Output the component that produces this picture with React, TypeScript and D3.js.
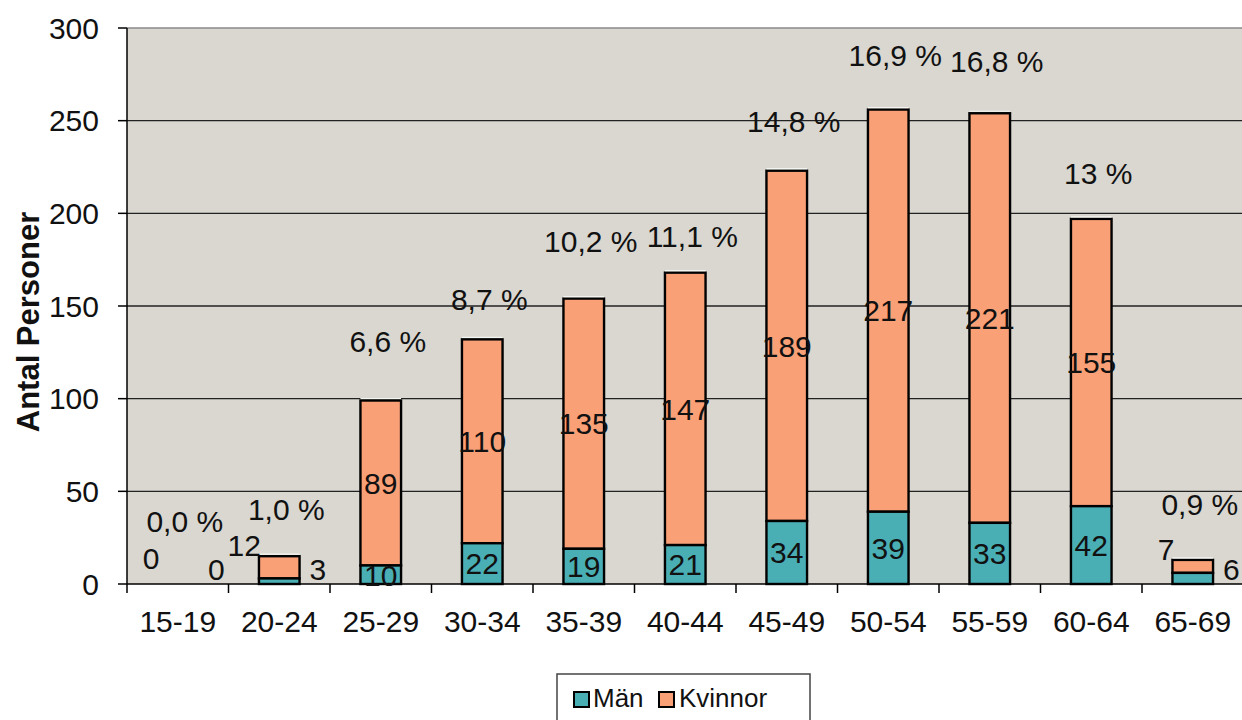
import React from 'react';
import * as d3 from 'd3';

// age groups and counts per sex
const ageGroups = ['15-19', '20-24', '25-29', '30-34', '35-39', '40-44', '45-49', '50-54', '55-59', '60-64', '65-69'];
const man = [0, 3, 10, 22, 19, 21, 34, 39, 33, 42, 6];
const kvinnor = [0, 12, 89, 110, 135, 147, 189, 217, 221, 155, 7];
// share of total, as shown above each bar, and the level (in persons) where each label sits
const shareLabels = ['0,0 %', '1,0 %', '6,6 %', '8,7 %', '10,2 %', '11,1 %', '14,8 %', '16,9 %', '16,8 %', '13 %', '0,9 %'];
const shareLevel = [28, 34.5, 125, 148, 179, 182, 244, 279.5, 276, 216, 37];
const yTicks = [0, 50, 100, 150, 200, 250, 300];

const W = 1242;
const H = 720;
const left = 127;
const right = 1243.5;
const top = 28;
const bottom = 584;

const TEAL = '#4aaeb5';
const ORANGE = '#f9a077';
const BG = '#d9d7d0';
const FONT = '"Liberation Sans", Arial, sans-serif';

const App = () => {
  const x = d3.scaleBand().domain(ageGroups).range([left, right]).padding(0);
  const y = d3.scaleLinear().domain([0, 300]).range([bottom, top]);
  const bw = x.bandwidth();
  const barW = bw * 0.4;

  const rows = ageGroups.map((g, i) => ({
    g,
    m: man[i],
    k: kvinnor[i],
    total: man[i] + kvinnor[i],
    x0: (x(g) as number) + (bw - barW) / 2,
    cx: (x(g) as number) + bw / 2,
  }));

  return (
    <svg width={W} height={H} style={{ position: 'absolute', left: 0, top: 0, background: '#fff' }}
      fontFamily={FONT}>
      <rect x={left} y={top} width={right - left} height={bottom - top} fill={BG} />
      <line x1={left} x2={right} y1={top} y2={top} stroke="#8a8a8a" strokeWidth={1.5} />

      {yTicks.filter(t => t > 0 && t < 300).map(t => (
        <line key={'g' + t} x1={left} x2={right} y1={y(t)} y2={y(t)} stroke="#222" strokeWidth={1.3} />
      ))}

      {rows.map(r => (
        <g key={r.g}>
          {r.total > 0 && (
            <>
              <rect x={r.x0} y={y(r.total)} width={barW} height={y(r.m) - y(r.total)}
                fill={ORANGE} stroke="#000" strokeWidth={2.4} />
              <rect x={r.x0} y={y(r.m)} width={barW} height={y(0) - y(r.m)}
                fill={TEAL} stroke="#000" strokeWidth={2.4} />
              <line x1={r.x0} x2={r.x0 + barW} y1={y(r.total) - 2} y2={y(r.total) - 2}
                stroke="#f4f4f0" strokeWidth={1.2} />
            </>
          )}
        </g>
      ))}

      {/* axes */}
      <line x1={left} x2={left} y1={top} y2={bottom} stroke="#000" strokeWidth={1.5} />
      <line x1={left} x2={right} y1={bottom} y2={bottom} stroke="#000" strokeWidth={1.5} />
      {yTicks.map(t => (
        <g key={'y' + t}>
          <line x1={left - 9} x2={left} y1={y(t)} y2={y(t)} stroke="#000" strokeWidth={1.5} />
          <text x={99} y={y(t)} dy="0.36em" textAnchor="end" fontSize={30} fill="#111">{t}</text>
        </g>
      ))}
      {ageGroups.map(g => (
        <g key={'x' + g}>
          <line x1={x(g) as number} x2={x(g) as number} y1={bottom} y2={bottom + 9} stroke="#000" strokeWidth={1.5} />
          <text x={(x(g) as number) + bw / 2} y={632} textAnchor="middle" fontSize={30} fill="#111">{g}</text>
        </g>
      ))}

      {/* value labels */}
      {rows.map((r, i) => {
        const small = r.total < 20;
        return (
          <g key={'l' + r.g} fontSize={30} fill="#111">
            {small ? (
              <>
                <text x={r.x0 + 2} y={Math.min(y(r.total), y(8))} textAnchor="end">{r.k}</text>
                <text x={r.x0 + barW + 10} y={y(0) - 4} textAnchor="start">{r.m}</text>
              </>
            ) : (
              <>
                <text x={r.cx} y={y(r.m + r.k / 2)} dy="0.36em" textAnchor="middle">{r.k}</text>
                <text x={r.cx} y={y(r.m / 2)} dy="0.36em" textAnchor="middle">{r.m}</text>
              </>
            )}
            <text x={r.cx + 7} y={y(shareLevel[i])} textAnchor="middle">{shareLabels[i]}</text>
          </g>
        );
      })}

      <text transform={`translate(39, 322) rotate(-90)`} textAnchor="middle" fontSize={31}
        fontWeight="bold" fill="#111">Antal Personer</text>

      {/* legend */}
      <g>
        <rect x={557} y={674} width={253} height={60} fill="#fff" stroke="#444" strokeWidth={1.5} />
        <rect x={574} y={692} width={15} height={15} fill={TEAL} stroke="#000" strokeWidth={2} />
        <text x={593} y={707} fontSize={26} fill="#111">Män</text>
        <rect x={659} y={692} width={15} height={15} fill={ORANGE} stroke="#000" strokeWidth={2} />
        <text x={679} y={707} fontSize={26} fill="#111">Kvinnor</text>
      </g>
    </svg>
  );
};

export default App;
